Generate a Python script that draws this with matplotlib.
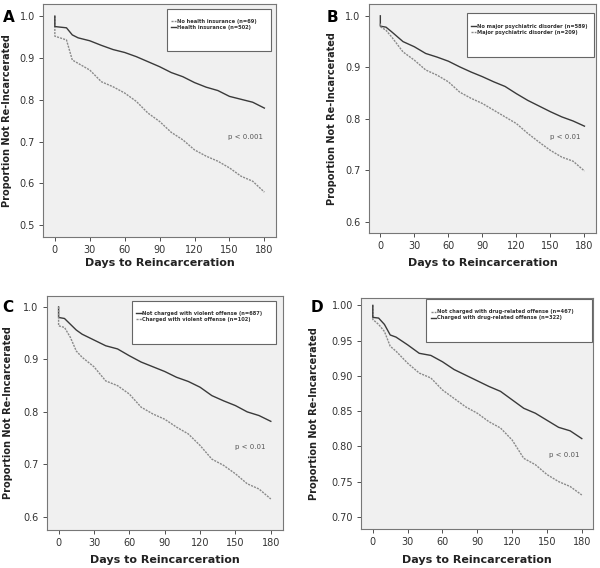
import numpy as np
import matplotlib
matplotlib.use("Agg")
import matplotlib.pyplot as plt
from matplotlib.patches import Rectangle

# panel A - health insurance
days_a = [0, 0, 10, 15, 20, 30, 40, 50, 60, 70, 80, 90, 100, 110, 120, 130, 140, 150, 160, 170, 180]
a_ins = [1.0, 0.975, 0.972, 0.955, 0.948, 0.941, 0.930, 0.920, 0.913, 0.903, 0.891, 0.879, 0.865,
         0.855, 0.841, 0.830, 0.822, 0.808, 0.801, 0.794, 0.780]
a_noins = [1.0, 0.952, 0.943, 0.895, 0.887, 0.871, 0.843, 0.831, 0.816, 0.796, 0.768, 0.748, 0.722,
           0.704, 0.680, 0.665, 0.653, 0.637, 0.617, 0.605, 0.579]

# panel B - psychiatric disorder
days_b = [0, 0, 5, 10, 20, 30, 40, 50, 60, 70, 80, 90, 100, 110, 120, 130, 140, 150, 160, 170, 180]
b_nopsy = [1.0, 0.980, 0.978, 0.969, 0.950, 0.940, 0.927, 0.920, 0.912, 0.901, 0.891, 0.882, 0.872,
           0.863, 0.849, 0.836, 0.825, 0.814, 0.804, 0.796, 0.786]
b_psy = [0.985, 0.979, 0.972, 0.959, 0.930, 0.914, 0.895, 0.885, 0.872, 0.852, 0.840, 0.830, 0.817,
         0.804, 0.791, 0.772, 0.755, 0.739, 0.726, 0.718, 0.699]

# panel C - violent offense
days_c = [0, 0, 5, 10, 15, 20, 30, 40, 50, 60, 70, 80, 90, 100, 110, 120, 130, 140, 150, 160, 170, 180]
c_nonviol = [1.0, 0.980, 0.978, 0.967, 0.956, 0.948, 0.937, 0.926, 0.920, 0.907, 0.895, 0.886, 0.877,
             0.866, 0.858, 0.847, 0.831, 0.821, 0.812, 0.800, 0.793, 0.782]
c_viol = [1.0, 0.964, 0.961, 0.942, 0.916, 0.904, 0.886, 0.859, 0.850, 0.834, 0.809, 0.796, 0.786,
          0.771, 0.758, 0.736, 0.710, 0.698, 0.682, 0.663, 0.653, 0.634]

# panel D - drug-related offense
days_d = [0, 0, 5, 10, 15, 20, 30, 40, 50, 60, 70, 80, 90, 100, 110, 120, 130, 140, 150, 160, 170, 180]
d_drug = [1.0, 0.983, 0.982, 0.973, 0.958, 0.955, 0.944, 0.932, 0.929, 0.920, 0.909, 0.901, 0.893,
          0.885, 0.878, 0.866, 0.854, 0.847, 0.837, 0.827, 0.822, 0.811]
d_nodrug = [1.0, 0.980, 0.973, 0.963, 0.942, 0.935, 0.918, 0.904, 0.897, 0.880, 0.868, 0.856, 0.847,
            0.835, 0.826, 0.809, 0.783, 0.774, 0.760, 0.750, 0.743, 0.731]

panels = [
    dict(letter="A", letter_xy=(9, 17), pos=[0.072, 0.583, 0.388, 0.410], ylim=(0.472, 1.029),
         yticks=[0.5, 0.6, 0.7, 0.8, 0.9, 1.0], yfmt="%.1f", days=days_a,
         series=[("No health insurance (n=69)", a_noins, "dash"),
                 ("Health insurance (n=502)", a_ins, "solid")],
         p=("p < 0.001", 149, 0.712), box=(0.53, 0.80, 0.45, 0.18), ylab_x=-0.155, xlab_y=-0.112),
    dict(letter="B", letter_xy=(332, 17), pos=[0.615, 0.590, 0.378, 0.403], ylim=(0.579, 1.023),
         yticks=[0.6, 0.7, 0.8, 0.9, 1.0], yfmt="%.1f", days=days_b,
         series=[("No major psychiatric disorder (n=589)", b_nopsy, "solid"),
                 ("Major psychiatric disorder (n=209)", b_psy, "dash")],
         p=("p < 0.01", 150, 0.765), box=(0.43, 0.77, 0.56, 0.19), ylab_x=-0.163, xlab_y=-0.131),
    dict(letter="C", letter_xy=(8, 307), pos=[0.078, 0.067, 0.393, 0.412], ylim=(0.575, 1.021),
         yticks=[0.6, 0.7, 0.8, 0.9, 1.0], yfmt="%.1f", days=days_c,
         series=[("Not charged with violent offense (n=687)", c_nonviol, "solid"),
                 ("Charged with violent offense (n=102)", c_viol, "dash")],
         p=("p < 0.01", 150, 0.734), box=(0.36, 0.795, 0.61, 0.185), ylab_x=-0.165, xlab_y=-0.128),
    dict(letter="D", letter_xy=(317, 307), pos=[0.602, 0.069, 0.387, 0.407], ylim=(0.683, 1.011),
         yticks=[0.70, 0.75, 0.80, 0.85, 0.90, 0.95, 1.00], yfmt="%.2f", days=days_d,
         series=[("Not charged with drug-related offense (n=467)", d_nodrug, "dash"),
                 ("Charged with drug-related offense (n=322)", d_drug, "solid")],
         p=("p < 0.01", 152, 0.788), box=(0.28, 0.81, 0.715, 0.185), ylab_x=-0.203, xlab_y=-0.134),
]

styles = {"solid": dict(color="#3a3a3a", linestyle="-", linewidth=1.0),
          "dash": dict(color="#8a8a8a", linestyle=(0, (1.5, 0.8)), linewidth=1.0)}

W, H = 600, 568
fig = plt.figure(figsize=(W / 100, H / 100), dpi=100)

for pn in panels:
    ax = fig.add_axes(pn["pos"])
    ax.set_facecolor("#f0f0f0")
    handles = []
    for label, vals, st in pn["series"]:
        ln, = ax.plot(pn["days"], vals, label=label, **styles[st])
        handles.append(ln)
    ax.set_xlim(-10, 190)
    ax.set_ylim(*pn["ylim"])
    ax.set_xticks([0, 30, 60, 90, 120, 150, 180])
    ax.set_yticks(pn["yticks"])
    ax.set_yticklabels([pn["yfmt"] % v for v in pn["yticks"]])
    ax.tick_params(labelsize=7, colors="#333333", length=3, width=0.6, pad=3)
    for s in ax.spines.values():
        s.set_color("#777777")
        s.set_linewidth(0.8)
    ax.set_xlabel("Days to Reincarceration", fontsize=8, fontweight="bold", va="center",
                  color="#222222")
    ax.set_ylabel("Proportion Not Re-Incarcerated", fontsize=7, fontweight="bold", va="center",
                  color="#222222")
    ax.xaxis.set_label_coords(0.5, pn["xlab_y"])
    ax.yaxis.set_label_coords(pn["ylab_x"], 0.5)
    ax.text(pn["p"][1], pn["p"][2], pn["p"][0], fontsize=5, color="#555555", va="center")
    bx, by, bw, bh = pn["box"]
    ax.add_patch(Rectangle((bx, by), bw, bh, transform=ax.transAxes, facecolor="white",
                           edgecolor="#666666", linewidth=0.8, zorder=3))
    leg = ax.legend(handles=handles, loc="upper left", bbox_to_anchor=(bx + 0.005, by + bh - 0.03),
                    frameon=False, prop=dict(size=3.7, weight="bold"), handlelength=1.0,
                    handletextpad=0.15, labelspacing=0.2, borderpad=0.2)
    for t in leg.get_texts():
        t.set_color("#333333")
    leg.set_zorder(4)
    fig.text(pn["letter_xy"][0] / W, 1 - pn["letter_xy"][1] / H, pn["letter"],
             fontsize=11, fontweight="bold", ha="center", va="center")

fig.savefig("out.png", dpi=100)
